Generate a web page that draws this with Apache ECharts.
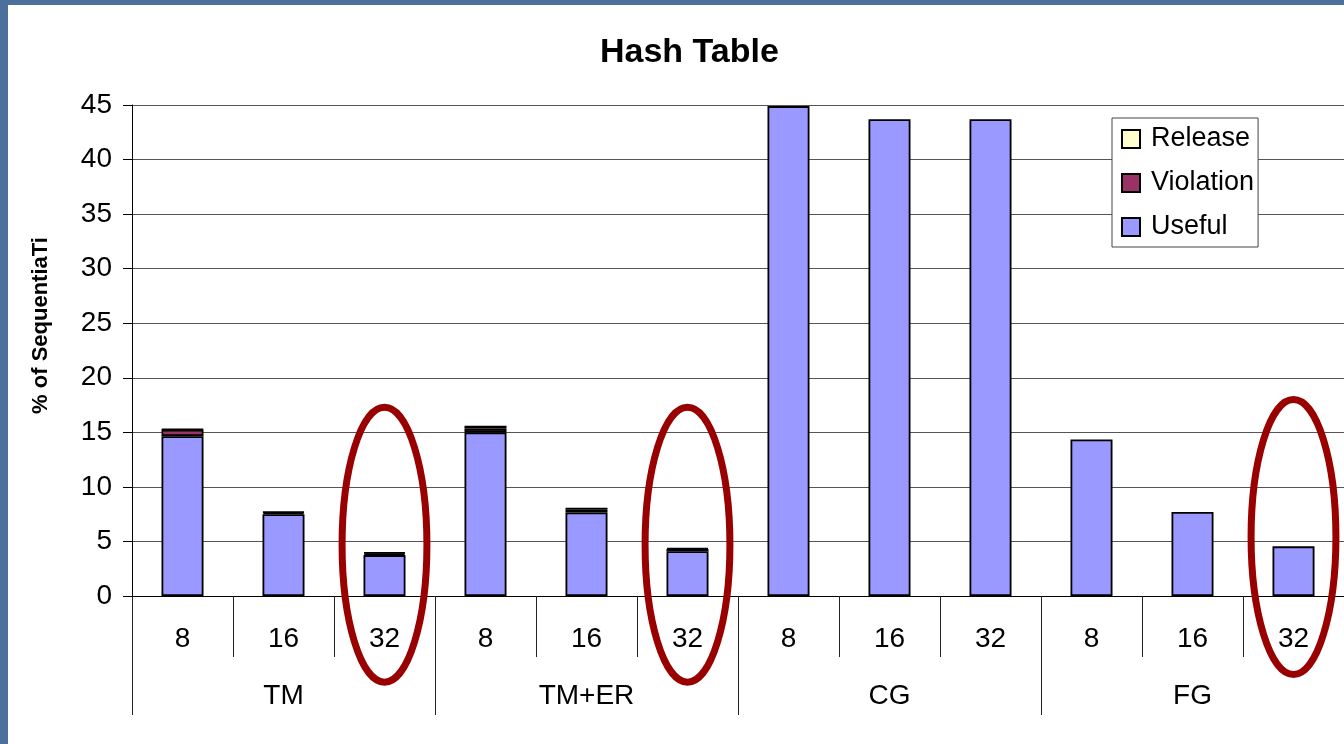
<!DOCTYPE html>
<html>
<head>
<meta charset="utf-8">
<script src="https://cdn.jsdelivr.net/npm/echarts@6/dist/echarts.min.js"></script>
<style>
html,body{margin:0;padding:0;width:1344px;height:744px;overflow:hidden;background:#4d6f9c;}
#chart{position:absolute;left:8px;top:5px;width:1336px;height:739px;background:#ffffff;}
</style>
</head>
<body>
<div id="chart"></div>
<script>
// ---- data ----
const sizeLabels = ['8','16','32','8','16','32','8','16','32','8','16','32'];
const groupLabels = ['TM','TM+ER','CG','FG'];
const usefulValues    = [14.65, 7.5, 3.75, 15.0, 7.65, 4.1, 44.9, 43.7, 43.7, 14.35, 7.7, 4.55];
const violationValues = [0.6, 0.15, 0.15, 0.35, 0.25, 0.2, 0, 0, 0, 0, 0, 0];
const releaseValues   = [0.05, 0.08, 0.1, 0.25, 0.18, 0.1, 0, 0, 0, 0, 0, 0];
const yTicks = [0, 5, 10, 15, 20, 25, 30, 35, 40, 45];
// annotation ellipses: [category index, centre value, half-height in value units]
const highlightEllipses = [[2, 4.7, 12.6], [5, 4.7, 12.6], [11, 5.4, 12.6]];

const FONT = '"Liberation Sans", Arial, sans-serif';
const chart = echarts.init(document.getElementById('chart'));

const barStyle = (color) => ({ color: color, borderColor: '#000', borderWidth: 1.8 });
const toBar = (arr) => arr.map(v => v === 0 ? '-' : v);

chart.setOption({
  animation: false,
  textStyle: { fontFamily: FONT },
  title: {
    text: 'Hash Table',
    left: 587, top: 26,
    textStyle: { fontFamily: FONT, fontSize: 34, fontWeight: 'bold', color: '#000' }
  },
  legend: {
    orient: 'vertical',
    left: 1104, top: 113,
    data: ['Release', 'Violation', 'Useful'],
    backgroundColor: '#fff',
    borderColor: '#444', borderWidth: 1,
    padding: [6, 4, 5, 9],
    itemWidth: 18, itemHeight: 18, itemGap: 14,
    icon: 'rect',
    textStyle: { fontFamily: FONT, fontSize: 27, color: '#000', lineHeight: 30, padding: [0, 0, 0, 6] }
  },
  grid: { left: 124, top: 100, width: 1214, height: 491, containLabel: false },
  xAxis: [
    {
      type: 'category',
      data: sizeLabels,
      position: 'bottom',
      axisLine: { show: true, lineStyle: { color: '#000', width: 1 } },
      axisTick: { show: true, length: 61, interval: 0, lineStyle: { color: '#222', width: 1 } },
      axisLabel: { interval: 0, margin: 29, fontFamily: FONT, fontSize: 28, color: '#000' },
      splitLine: { show: false }
    },
    {
      type: 'category',
      data: groupLabels,
      position: 'bottom',
      axisLine: { show: false },
      axisTick: { show: true, length: 119, interval: 0, lineStyle: { color: '#222', width: 1 } },
      axisLabel: { interval: 0, margin: 86, fontFamily: FONT, fontSize: 28, color: '#000' },
      splitLine: { show: false }
    }
  ],
  yAxis: {
    type: 'value',
    min: 0, max: 45, interval: 5,
    name: '% of SequentiaTi',
    nameLocation: 'middle',
    nameGap: 80,
    nameRotate: 90,
    nameTextStyle: { fontFamily: FONT, fontSize: 22, fontWeight: 'bold', color: '#000', padding: [0, 0, 0, 50] },
    axisLine: { show: true, lineStyle: { color: '#000', width: 1 } },
    axisTick: { show: true, length: 9, lineStyle: { color: '#000' } },
    axisLabel: { margin: 20, fontFamily: FONT, fontSize: 28, color: '#000',
      formatter: (v) => yTicks.indexOf(v) >= 0 ? String(v) : '' },
    splitLine: { show: true, lineStyle: { color: '#555', width: 1 } }
  },
  series: [
    { name: 'Useful', type: 'bar', stack: 'a', xAxisIndex: 0, barWidth: 42, data: usefulValues, itemStyle: barStyle('#9999FF') },
    { name: 'Violation', type: 'bar', stack: 'a', xAxisIndex: 0, barWidth: 42, data: toBar(violationValues), itemStyle: barStyle('#993366') },
    { name: 'Release', type: 'bar', stack: 'a', xAxisIndex: 0, barWidth: 42, data: toBar(releaseValues), itemStyle: barStyle('#FFFFCC') },
    {
      name: 'highlight', type: 'custom', xAxisIndex: 0, clip: false, z: 10, silent: true,
      encode: { x: 0, y: 1 },
      data: highlightEllipses,
      renderItem: function (params, api) {
        const c = api.coord([api.value(0), api.value(1)]);
        const sz = api.size([1, api.value(2)]);
        return {
          type: 'ellipse',
          shape: { cx: c[0], cy: c[1], rx: sz[0] * 0.42, ry: sz[1] },
          style: { fill: 'none', stroke: '#990000', lineWidth: 7 }
        };
      }
    }
  ]
});
</script>
</body>
</html>
